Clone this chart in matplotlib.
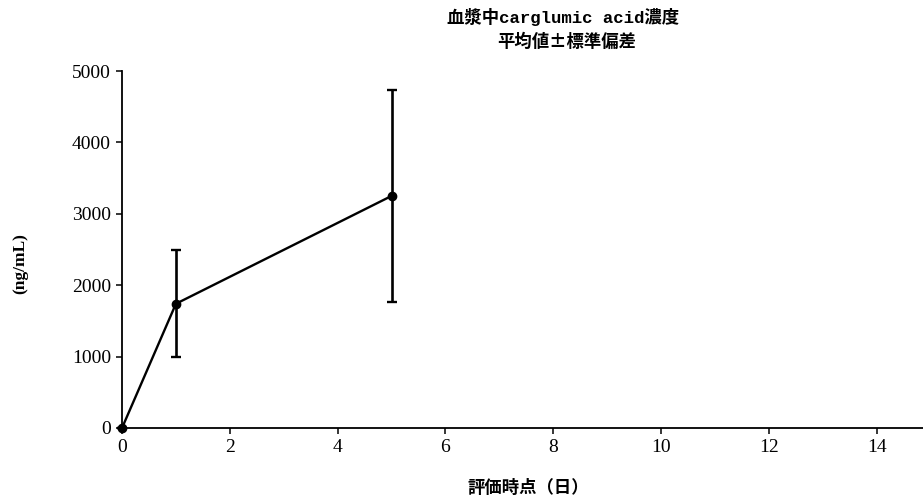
import numpy as np
import matplotlib.pyplot as plt

# 評価時点(日)ごとの血漿中濃度 平均値と標準偏差
days = [0, 1, 5]
mean_conc = [0, 1740, 3250]
sd_conc = [0, 750, 1480]

xticks = [0, 2, 4, 6, 8, 10, 12, 14]
yticks = [0, 1000, 2000, 3000, 4000, 5000]

mono_cjk = ['Liberation Mono', 'Noto Sans CJK JP']
cjk = ['Noto Sans CJK JP', 'DejaVu Sans']

fig = plt.figure(figsize=(9.23, 4.99), dpi=100)
ax = fig.add_axes([0.1322, 0.1423, 0.8678, 0.7154])

ax.errorbar(days, mean_conc, yerr=sd_conc, color='black', lw=1.7,
            marker='o', markersize=6, capsize=3.5, elinewidth=1.9,
            capthick=1.7, clip_on=False, zorder=3)

ax.set_xlim(0, 14.86)
ax.set_ylim(0, 5000)
ax.set_xticks(xticks)
ax.set_yticks(yticks)
for s in ['top', 'right']:
    ax.spines[s].set_visible(False)
for s in ['left', 'bottom']:
    ax.spines[s].set_linewidth(1.3)
ax.tick_params(direction='out', length=4, width=1.1, labelsize=14, pad=4)
for lab in ax.get_xticklabels() + ax.get_yticklabels():
    lab.set_fontfamily('Liberation Serif')

ax.set_ylabel('(ng/mL)', fontfamily='Liberation Serif', fontsize=12.5,
              fontweight='bold')
ax.yaxis.set_label_coords(-0.117, 0.46)

fig.text(0.61, 0.966, '血漿中carglumic acid濃度', family=mono_cjk,
         fontsize=12.5, fontweight='bold', ha='center', va='center')
fig.text(0.614, 0.916, '平均値±標準偏差', family=cjk, fontsize=12.5,
         fontweight='bold', ha='center', va='center')
fig.text(0.572, 0.022, '評価時点（日）', family=cjk, fontsize=12.5,
         fontweight='bold', ha='center', va='center')

plt.savefig('out.png', dpi=100)
